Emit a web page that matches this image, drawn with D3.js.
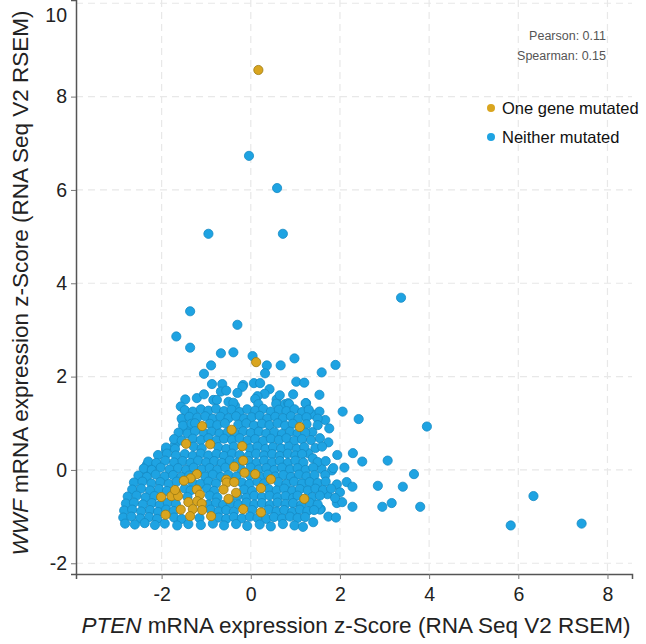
<!DOCTYPE html>
<html>
<head>
<meta charset="utf-8">
<script src="https://cdn.jsdelivr.net/npm/d3@7"></script>
<style>
  html, body { margin: 0; padding: 0; background: #fff; }
  svg { display: block; }
</style>
</head>
<body>
<div id="chart"></div>
<script>
// ---------------- DATA ----------------
const categories = ["One gene mutated", "Neither mutated"];
const xTicks = [-2, 0, 2, 4, 6, 8];
const yTicks = [-2, 0, 2, 4, 6, 8, 10];
const pearson = 0.11;
const spearman = 0.15;

// PTEN z-score (x), WWF z-score (y) : one gene mutated
const mutatedPoints = [
  [0.17,8.57],[0.12,2.31],[-1.09,0.94],[-0.43,0.86],[1.10,0.92],[-1.45,0.56],[-0.91,0.55],[-0.19,0.51],
  [-0.17,0.20],[-0.37,0.07],[-0.14,-0.06],[0.10,-0.09],[0.45,-0.20],[-1.21,-0.09],[-1.35,-0.18],[-1.50,-0.23],
  [-0.55,-0.21],[-0.54,-0.27],[-0.37,-0.26],[-0.61,-0.42],[-0.33,-0.49],[0.23,-0.39],[-1.21,-0.42],[-1.14,-0.53],
  [-1.67,-0.49],[-1.78,-0.56],[-1.63,-0.56],[-2.01,-0.58],[-0.50,-0.62],[-1.40,-0.69],[-1.20,-0.67],[-1.10,-0.72],
  [-1.57,-0.85],[-1.30,-0.84],[-1.09,-0.86],[-0.17,-0.84],[0.23,-0.91],[1.20,-0.62],[-1.91,-0.96],[-1.36,-0.99],
  [-0.89,-0.99],[-1.70,-0.43]
];

// PTEN z-score (x), WWF z-score (y) : neither mutated
const neitherPoints = [
  // outliers and sparse upper points
  [-0.04,6.73],[0.59,6.04],[-0.95,5.06],[0.72,5.06],[3.37,3.69],[-1.36,3.40],[-0.30,3.11],[-1.67,2.86],
  [-1.36,2.62],[-0.67,2.50],[-0.39,2.52],[0.04,2.44],[0.36,2.24],[0.67,2.24],[0.98,2.39],[-0.89,2.24],
  [-1.05,2.06],[0.32,2.07],[1.59,2.09],[1.90,2.25],[-0.87,1.84],[-0.64,1.84],[-0.17,1.82],[-0.19,1.78],
  [0.07,1.86],[0.21,1.86],[1.02,1.89],[1.20,1.87],[0.42,1.73],[-0.67,1.68],[0.31,1.63],[0.15,1.58],
  [-1.21,1.54],[-1.47,1.51],[-1.57,1.36],[-0.84,1.50],[-0.76,1.50],[-0.50,1.46],[-0.35,1.37],[-0.39,1.44],
  [0.10,1.52],[0.17,1.41],[0.58,1.51],[0.57,1.42],[0.77,1.41],[0.84,1.43],[0.86,1.41],[1.24,1.43],
  [1.54,1.61],[1.23,1.43],[-1.05,1.62],[-0.30,1.65],[0.65,1.60],[0.95,1.62],[-0.55,1.70],
  // right-side scatter
  [1.39,1.19],[1.54,1.25],[2.06,1.25],[1.67,1.07],[1.76,0.89],[2.42,1.09],[1.38,0.81],[1.74,0.59],
  [3.95,0.93],[1.94,0.32],[2.29,0.36],[2.50,0.18],[3.07,0.20],[1.29,0.36],[1.39,0.25],[1.59,0.02],
  [1.82,-0.01],[2.10,0.05],[3.66,-0.09],[1.67,-0.11],[1.93,-0.31],[2.15,-0.26],[2.28,-0.36],[2.85,-0.34],
  [3.41,-0.36],[2.00,-0.48],[1.72,-0.52],[6.34,-0.56],[1.93,-0.71],[2.28,-0.79],[2.95,-0.79],[3.16,-0.71],
  [3.80,-0.79],[1.57,-0.84],[1.74,-1.00],[1.91,-1.02],[1.40,-1.12],[5.83,-1.19],[7.42,-1.15],
  [1.85,0.04],[2.05,-0.69],[1.89,-0.60],[1.55,-0.85],
  // left edge
  [-1.53,1.07],[-1.44,0.86],[-1.90,0.42],[-1.70,0.54],[-2.33,0.11],[-2.11,0.12],[-2.35,-0.01],
  // dense block rows
  [-1.48,1.28],[-1.30,1.25],[-1.12,1.30],[-0.95,1.27],[-0.78,1.31],[-0.60,1.26],[-0.43,1.29],[-0.25,1.24],
  [-0.08,1.30],[0.10,1.27],[0.28,1.31],[0.45,1.25],[0.63,1.29],[0.80,1.26],[0.98,1.30],[1.15,1.24],[1.30,1.29],
  [-1.55,1.10],[-1.38,1.14],[-1.20,1.12],[-1.02,1.15],[-0.85,1.10],[-0.68,1.14],[-0.50,1.11],[-0.33,1.15],
  [-0.15,1.10],[0.02,1.13],[0.20,1.16],[0.37,1.10],[0.55,1.14],[0.72,1.11],[0.90,1.15],[1.07,1.10],[1.25,1.13],[1.50,1.10],
  [-1.52,0.95],[-1.33,0.99],[-1.25,1.00],[-0.92,0.99],[-0.75,0.96],[-0.58,1.00],[-0.28,0.97],[-0.10,1.00],
  [0.07,0.95],[0.25,0.99],[0.42,0.96],[0.60,1.00],[0.77,0.95],[0.94,0.99],[1.25,0.98],[1.50,0.96],
  [-1.62,0.80],[-1.42,0.78],[-1.25,0.83],[-1.05,0.79],[-0.88,0.82],[-0.70,0.78],[-0.52,0.81],[-0.35,0.78],
  [-0.17,0.83],[0.00,0.79],[0.18,0.82],[0.35,0.78],[0.53,0.81],[0.70,0.77],[0.88,0.82],[1.05,0.78],[1.22,0.80],
  [-1.72,0.66],[-1.55,0.63],[-1.30,0.67],[-1.12,0.64],[-0.95,0.68],[-0.77,0.63],[-0.60,0.67],[-0.42,0.64],
  [-0.25,0.68],[-0.07,0.63],[0.10,0.66],[0.28,0.62],[0.45,0.67],[0.63,0.64],[0.80,0.68],[0.98,0.63],[1.15,0.66],[1.35,0.64],[1.55,0.68],
  [-1.90,0.48],[-1.70,0.45],[-1.28,0.50],[-1.10,0.46],[-0.73,0.49],[-0.55,0.45],[-0.38,0.50],[-0.02,0.46],
  [0.15,0.50],[0.33,0.45],[0.50,0.49],[0.68,0.46],[0.85,0.50],[1.03,0.45],[1.20,0.49],[1.45,0.47],[1.60,0.50],
  [-2.08,0.32],[-1.88,0.35],[-1.68,0.31],[-1.48,0.34],[-1.30,0.30],[-1.12,0.35],[-0.95,0.31],[-0.77,0.34],
  [-0.60,0.30],[-0.42,0.35],[-0.25,0.32],[-0.05,0.30],[0.12,0.35],[0.30,0.31],[0.48,0.34],[0.65,0.30],[0.83,0.35],[1.00,0.31],[1.15,0.34],
  [-2.30,0.18],[-2.12,0.15],[-1.92,0.20],[-1.72,0.16],[-1.53,0.19],[-1.35,0.15],[-1.18,0.20],[-1.00,0.16],
  [-0.82,0.19],[-0.65,0.15],[-0.47,0.20],[-0.30,0.16],[-0.05,0.19],[0.13,0.15],[0.30,0.20],[0.48,0.16],
  [0.65,0.19],[0.83,0.15],[1.00,0.20],[1.18,0.16],[1.50,0.17],[1.68,0.19],
  [-2.40,0.03],[-2.22,0.00],[-2.02,0.05],[-1.82,0.01],[-1.63,0.04],[-1.45,0.00],[-1.28,0.05],[-1.10,0.01],
  [-0.92,0.04],[-0.75,0.00],[-0.57,0.05],[-0.22,0.02],[0.00,0.05],[0.18,0.01],[0.35,0.04],[0.53,0.00],
  [0.70,0.05],[0.88,0.01],[1.05,0.04],[1.23,0.00],[1.40,0.05],
  [-2.52,-0.12],[-2.33,-0.15],[-2.13,-0.10],[-1.93,-0.14],[-1.74,-0.11],[-1.56,-0.15],[-1.38,-0.12],[-1.02,-0.14],
  [-0.85,-0.10],[-0.67,-0.15],[-0.50,-0.11],[-0.32,-0.14],[-0.02,-0.12],[0.22,-0.15],[0.38,-0.10],[0.55,-0.14],
  [0.73,-0.11],[0.90,-0.15],[1.08,-0.10],[1.25,-0.14],[1.43,-0.11],
  [-2.62,-0.27],[-2.43,-0.25],[-2.23,-0.29],[-2.03,-0.26],[-1.84,-0.30],[-1.66,-0.25],[-1.30,-0.28],[-1.13,-0.30],
  [-0.95,-0.25],[-0.78,-0.29],[-0.20,-0.27],[-0.03,-0.30],[0.15,-0.25],[0.30,-0.29],[0.62,-0.26],[0.80,-0.30],
  [0.97,-0.25],[1.15,-0.29],[1.32,-0.26],[1.50,-0.28],[1.68,-0.25],
  [-2.66,-0.42],[-2.46,-0.40],[-2.26,-0.44],[-2.06,-0.41],[-1.88,-0.45],[-1.48,-0.40],[-1.35,-0.44],[-0.98,-0.40],
  [-0.82,-0.45],[-0.15,-0.42],[0.03,-0.45],[0.40,-0.41],[0.58,-0.44],[0.75,-0.40],[0.93,-0.45],[1.10,-0.41],
  [1.28,-0.44],[1.45,-0.40],[1.62,-0.43],[1.80,-0.40],
  [-2.76,-0.57],[-2.56,-0.55],[-2.36,-0.59],[-2.16,-0.56],[-1.42,-0.58],[-0.92,-0.55],[-0.75,-0.59],[-0.30,-0.56],
  [-0.10,-0.60],[0.08,-0.55],[0.25,-0.58],[0.42,-0.55],[0.60,-0.59],[0.78,-0.56],[0.95,-0.60],[1.05,-0.55],[1.38,-0.58],[1.55,-0.55],
  [-2.80,-0.72],[-2.62,-0.70],[-2.42,-0.74],[-2.22,-0.71],[-2.04,-0.75],[-1.86,-0.70],[-1.68,-0.73],[-0.95,-0.74],
  [-0.78,-0.70],[-0.62,-0.75],[-0.45,-0.71],[-0.28,-0.74],[-0.10,-0.70],[0.08,-0.74],[0.25,-0.71],[0.43,-0.75],
  [0.60,-0.70],[0.78,-0.73],[0.95,-0.71],[1.13,-0.75],[1.32,-0.70],[1.50,-0.74],
  [-2.84,-0.87],[-2.66,-0.85],[-2.46,-0.89],[-2.26,-0.86],[-2.08,-0.90],[-1.90,-0.85],[-1.73,-0.88],[-0.90,-0.85],
  [-0.72,-0.89],[-0.55,-0.86],[-0.38,-0.90],[0.03,-0.86],[0.40,-0.85],[0.58,-0.89],[0.75,-0.86],[0.93,-0.90],
  [1.10,-0.85],[1.27,-0.88],[1.42,-0.86],
  [-2.86,-1.02],[-2.68,-1.00],[-2.48,-1.04],[-2.28,-1.01],[-2.10,-1.05],[-1.72,-1.02],[-1.55,-1.05],[-1.15,-1.03],
  [-0.72,-1.02],[-0.55,-1.05],[-0.38,-1.01],[-0.20,-1.04],[-0.02,-1.00],[0.15,-1.03],[0.35,-1.05],[0.52,-1.01],
  [0.70,-1.04],[0.88,-1.00],[1.05,-1.03],[1.22,-1.01],
  [-2.82,-1.15],[-2.60,-1.17],[-2.38,-1.14],[-2.15,-1.18],[-1.93,-1.15],[-1.65,-1.19],[-1.40,-1.16],[-1.12,-1.18],
  [-0.85,-1.15],[-0.60,-1.19],[-0.33,-1.16],[-0.08,-1.20],[0.20,-1.17],[0.45,-1.21],[0.72,-1.16],[0.98,-1.19],[1.17,-1.22]
];

// ---------------- CHART ----------------
const W = 646, H = 644;
const plot = { left: 76, right: 632, top: 0, bottom: 574 };
const colors = { mutated: "#d9a51f", mutatedStroke: "#9c7a12", neither: "#1ea3e2", neitherStroke: "#158ac4" };
const font = "Arial, 'Liberation Sans', sans-serif";

const svg = d3.select("#chart").append("svg").attr("width", W).attr("height", H);

const x = d3.scaleLinear().domain([-3.92, 8.55]).range([plot.left, plot.right]);
const y = d3.scaleLinear().domain([-2.23, 10.07]).range([plot.bottom, plot.top]);

// grid
const grid = svg.append("g").attr("stroke", "#e8e8e8").attr("stroke-width", 1.2).attr("stroke-dasharray", "7,5");
grid.selectAll("line.gx").data(xTicks).join("line").attr("class", "gx")
  .attr("x1", d => x(d)).attr("x2", d => x(d)).attr("y1", plot.top).attr("y2", plot.bottom);
grid.selectAll("line.gy").data(yTicks).join("line").attr("class", "gy")
  .attr("y1", d => y(d)).attr("y2", d => y(d)).attr("x1", plot.left).attr("x2", plot.right);

// axes (hyphen-minus labels as in the reference)
const fmt = d => String(d);
const xAxis = svg.append("g").attr("transform", `translate(0,${plot.bottom})`)
  .call(d3.axisBottom(x).tickValues(xTicks).tickSize(5).tickPadding(8).tickFormat(fmt));
const yAxis = svg.append("g").attr("transform", `translate(${plot.left},0)`)
  .call(d3.axisLeft(y).tickValues(yTicks).tickSize(5).tickPadding(4).tickFormat(fmt));

[xAxis, yAxis].forEach(a => {
  a.select(".domain").attr("stroke", "#555").attr("stroke-width", 1.5);
  a.selectAll(".tick line").attr("stroke", "#777").attr("stroke-width", 1);
  a.selectAll(".tick text").attr("fill", "#222").style("font-family", font).style("font-size", "19.5px");
});
// the top "10" label sits lower in the reference (kept inside the image)
yAxis.selectAll(".tick").filter(d => d === 10).select("text").attr("dy", "0.95em");
yAxis.selectAll(".tick").filter(d => d === 10).select("line").remove();

// points
const pts = svg.append("g");
pts.selectAll("circle.n").data(neitherPoints).join("circle").attr("class", "n")
  .attr("cx", d => x(d[0])).attr("cy", d => y(d[1])).attr("r", 4.6)
  .attr("fill", colors.neither).attr("stroke", colors.neitherStroke).attr("stroke-width", 0.8);
pts.selectAll("circle.m").data(mutatedPoints).join("circle").attr("class", "m")
  .attr("cx", d => x(d[0])).attr("cy", d => y(d[1])).attr("r", 4.6)
  .attr("fill", colors.mutated).attr("stroke", colors.mutatedStroke).attr("stroke-width", 0.8);

// axis titles
const xt = svg.append("text").attr("x", 356).attr("y", 633)
  .attr("text-anchor", "middle").style("font-family", font).style("font-size", "22.5px").attr("fill", "#222");
xt.append("tspan").style("font-style", "italic").text("PTEN");
xt.append("tspan").text(" mRNA expression z-Score (RNA Seq V2 RSEM)");

const yt = svg.append("text").attr("transform", `translate(28,${283}) rotate(-90)`)
  .attr("text-anchor", "middle").style("font-family", font).style("font-size", "22.5px").attr("fill", "#222");
yt.append("tspan").style("font-style", "italic").text("WWF");
yt.append("tspan").text(" mRNA expression z-Score (RNA Seq V2 RSEM)");

// correlation text
svg.append("text").attr("x", 606).attr("y", 40).attr("text-anchor", "end")
  .style("font-family", font).style("font-size", "12.5px").attr("fill", "#555")
  .text(`Pearson: ${pearson.toFixed(2)}`);
svg.append("text").attr("x", 606).attr("y", 60).attr("text-anchor", "end")
  .style("font-family", font).style("font-size", "12.5px").attr("fill", "#555")
  .text(`Spearman: ${spearman.toFixed(2)}`);

// legend
const legendColors = [colors.mutated, colors.neither];
const lg = svg.append("g");
categories.forEach((c, i) => {
  const ly = 108 + i * 29;
  lg.append("circle").attr("cx", 491).attr("cy", ly).attr("r", 4)
    .attr("fill", legendColors[i]);
  lg.append("text").attr("x", 502).attr("y", ly + 6)
    .style("font-family", font).style("font-size", "16.5px").attr("fill", "#111").text(c);
});
</script>
</body>
</html>
